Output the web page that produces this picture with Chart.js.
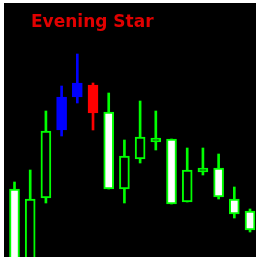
<!DOCTYPE html>
<html>
<head>
<meta charset="utf-8">
<script src="https://cdn.jsdelivr.net/npm/chart.js@4/dist/chart.umd.min.js"></script>
<style>
  html, body { margin: 0; padding: 0; background: #ffffff; width: 256px; height: 261px; overflow: hidden; }
  #wrap { position: absolute; left: 4px; top: 3px; width: 252px; height: 254px; background: #000000; }
  #c { display: block; background: #000000; }
  #title { position: absolute; left: 31px; top: 13px; font: bold 17px "DejaVu Sans", sans-serif; line-height: 17px; color: #e00000; white-space: nowrap; }
</style>
</head>
<body>
<div id="wrap"><canvas id="c" width="252" height="254"></canvas></div>
<div id="title">Evening Star</div>
<script>
// Bars (sessions), left to right
const categories = [1, 2, 3, 4, 5, 6, 7, 8, 9, 10, 11, 12, 13, 14, 15, 16];
const opens  = [ 99.0, 105.8, 112.6, 112.7, 116.0, 117.2, 106.8, 110.1, 112.0, 111.9, 105.3, 108.7, 108.9, 106.0, 104.3, 102.7];
const highs  = [107.5, 108.7, 114.6, 117.1, 120.3, 117.4, 116.4, 111.7, 115.6, 114.6, 111.8, 110.9, 110.9, 110.3, 107.0, 104.8];
const lows   = [ 98.5,  98.5, 105.4, 112.1, 115.4, 112.7, 106.8, 105.4, 109.4, 110.7, 105.3, 105.5, 108.2, 105.8, 103.9, 102.5];
const closes = [106.8,  99.0, 105.9, 116.0, 117.4, 114.4, 114.5, 106.8, 109.8, 111.5, 111.8, 105.5, 108.5, 108.9, 105.8, 104.6];
// Pattern highlight: 0 = normal, 1 = pattern bullish (blue), 2 = pattern bearish (red)
const pattern = [0, 0, 0, 1, 1, 2, 0, 0, 0, 0, 0, 0, 0, 0, 0, 0];

const GREEN = '#00ff00', BLUE = '#0000ff', RED = '#ff0000';
const lineColor = pattern.map(p => p === 1 ? BLUE : p === 2 ? RED : GREEN);
const fillColor = categories.map((_, i) =>
  pattern[i] === 1 ? BLUE : pattern[i] === 2 ? RED : (closes[i] >= opens[i] ? '#ffffff' : '#000000'));

const bodies = categories.map((_, i) => ({ x: i, y: [opens[i], closes[i]] }));
const wicks  = categories.map((_, i) => ({ x: i, y: [lows[i], highs[i]] }));

new Chart(document.getElementById('c'), {
  type: 'bar',
  data: {
    datasets: [
      {
        label: 'body', data: bodies,
        backgroundColor: fillColor, borderColor: lineColor,
        borderWidth: 2, borderSkipped: false, barThickness: 10, grouped: false
      },
      {
        label: 'wick', data: wicks,
        backgroundColor: lineColor, borderWidth: 0,
        barThickness: 2, grouped: false
      }
    ]
  },
  options: {
    responsive: false, animation: false, devicePixelRatio: 1,
    layout: { padding: 0 },
    plugins: { legend: { display: false }, tooltip: { enabled: false }, title: { display: false } },
    scales: {
      x: { type: 'linear', display: false, min: -0.669, max: 15.381, offset: false },
      y: { display: false, min: 100, max: 125.4 }
    }
  }
});
</script>
</body>
</html>
